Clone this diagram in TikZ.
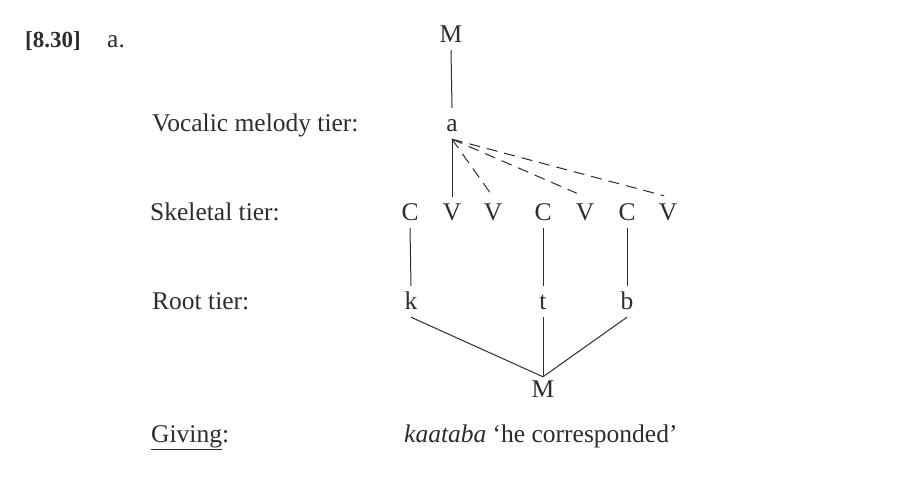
\documentclass[tikz,border=0pt]{standalone}
\usepackage{fontspec}
\setmainfont{Liberation Serif}
\definecolor{ink}{RGB}{45,45,45}
\begin{document}
\begin{tikzpicture}[x=1pt,y=-1pt,
  seg/.style={font=\fontsize{25.5}{30}\selectfont, text=ink, inner xsep=0pt, inner ysep=7pt, text height=17pt, text depth=0pt, anchor=base},
  lbl/.style={font=\fontsize{25.5}{30}\selectfont, text=ink, inner sep=0pt, anchor=base west},
  assoc/.style={draw=ink, line width=1pt},
  spread/.style={assoc, dash pattern=on 11pt off 7pt}]
\useasboundingbox (0,0) rectangle (897,486);
% labels
\node[lbl, font=\fontsize{23}{28}\selectfont\bfseries] (num) at (25,48) {[8.30]};
\node[lbl] (sub) at (107,48) {a.};
\node[lbl] (lvoc) at (152,132) {Vocalic melody tier:};
\node[lbl] (lskel) at (150,221) {Skeletal tier:};
\node[lbl] (lroot) at (152,310) {Root tier:};
\node[lbl] (lgiv) at (151,442) {\underline{Giving}:};
\node[lbl] (res) at (404,442) {\textit{kaataba} ‘he corresponded’};
% melody
\node[seg] (mtop) at (451,43) {M};
\node[seg] (a) at (452,132) {a};
% skeleton
\node[seg] (c1) at (410,221) {C};
\node[seg] (v1) at (452,221) {V};
\node[seg] (v2) at (493,221) {V};
\node[seg] (c2) at (543,221) {C};
\node[seg] (v3) at (585,221) {V};
\node[seg] (c3) at (627,221) {C};
\node[seg] (v4) at (668,221) {V};
% root
\node[seg] (k) at (411,310) {k};
\node[seg] (t) at (543,310) {t};
\node[seg] (b) at (627,310) {b};
\node[seg, inner ysep=3pt] (mbot) at (543,397) {M};
% connectors
\draw[assoc] (mtop.south) -- (a.north);
\draw[assoc] (a.south) -- (v1.north);
\draw[spread] (a.south) -- (v2.north);
\draw[spread, shorten >=9pt] (a.south) -- (v3.north);
\draw[spread, shorten >=4pt] (a.south) -- (v4.north);
\draw[assoc] (c1.south) -- (k.north);
\draw[assoc] (c2.south) -- (t.north);
\draw[assoc] (c3.south) -- (b.north);
\draw[assoc] (k.south) -- (mbot.north);
\draw[assoc] (t.south) -- (mbot.north);
\draw[assoc] (b.south) -- (mbot.north);
\end{tikzpicture}
\end{document}
